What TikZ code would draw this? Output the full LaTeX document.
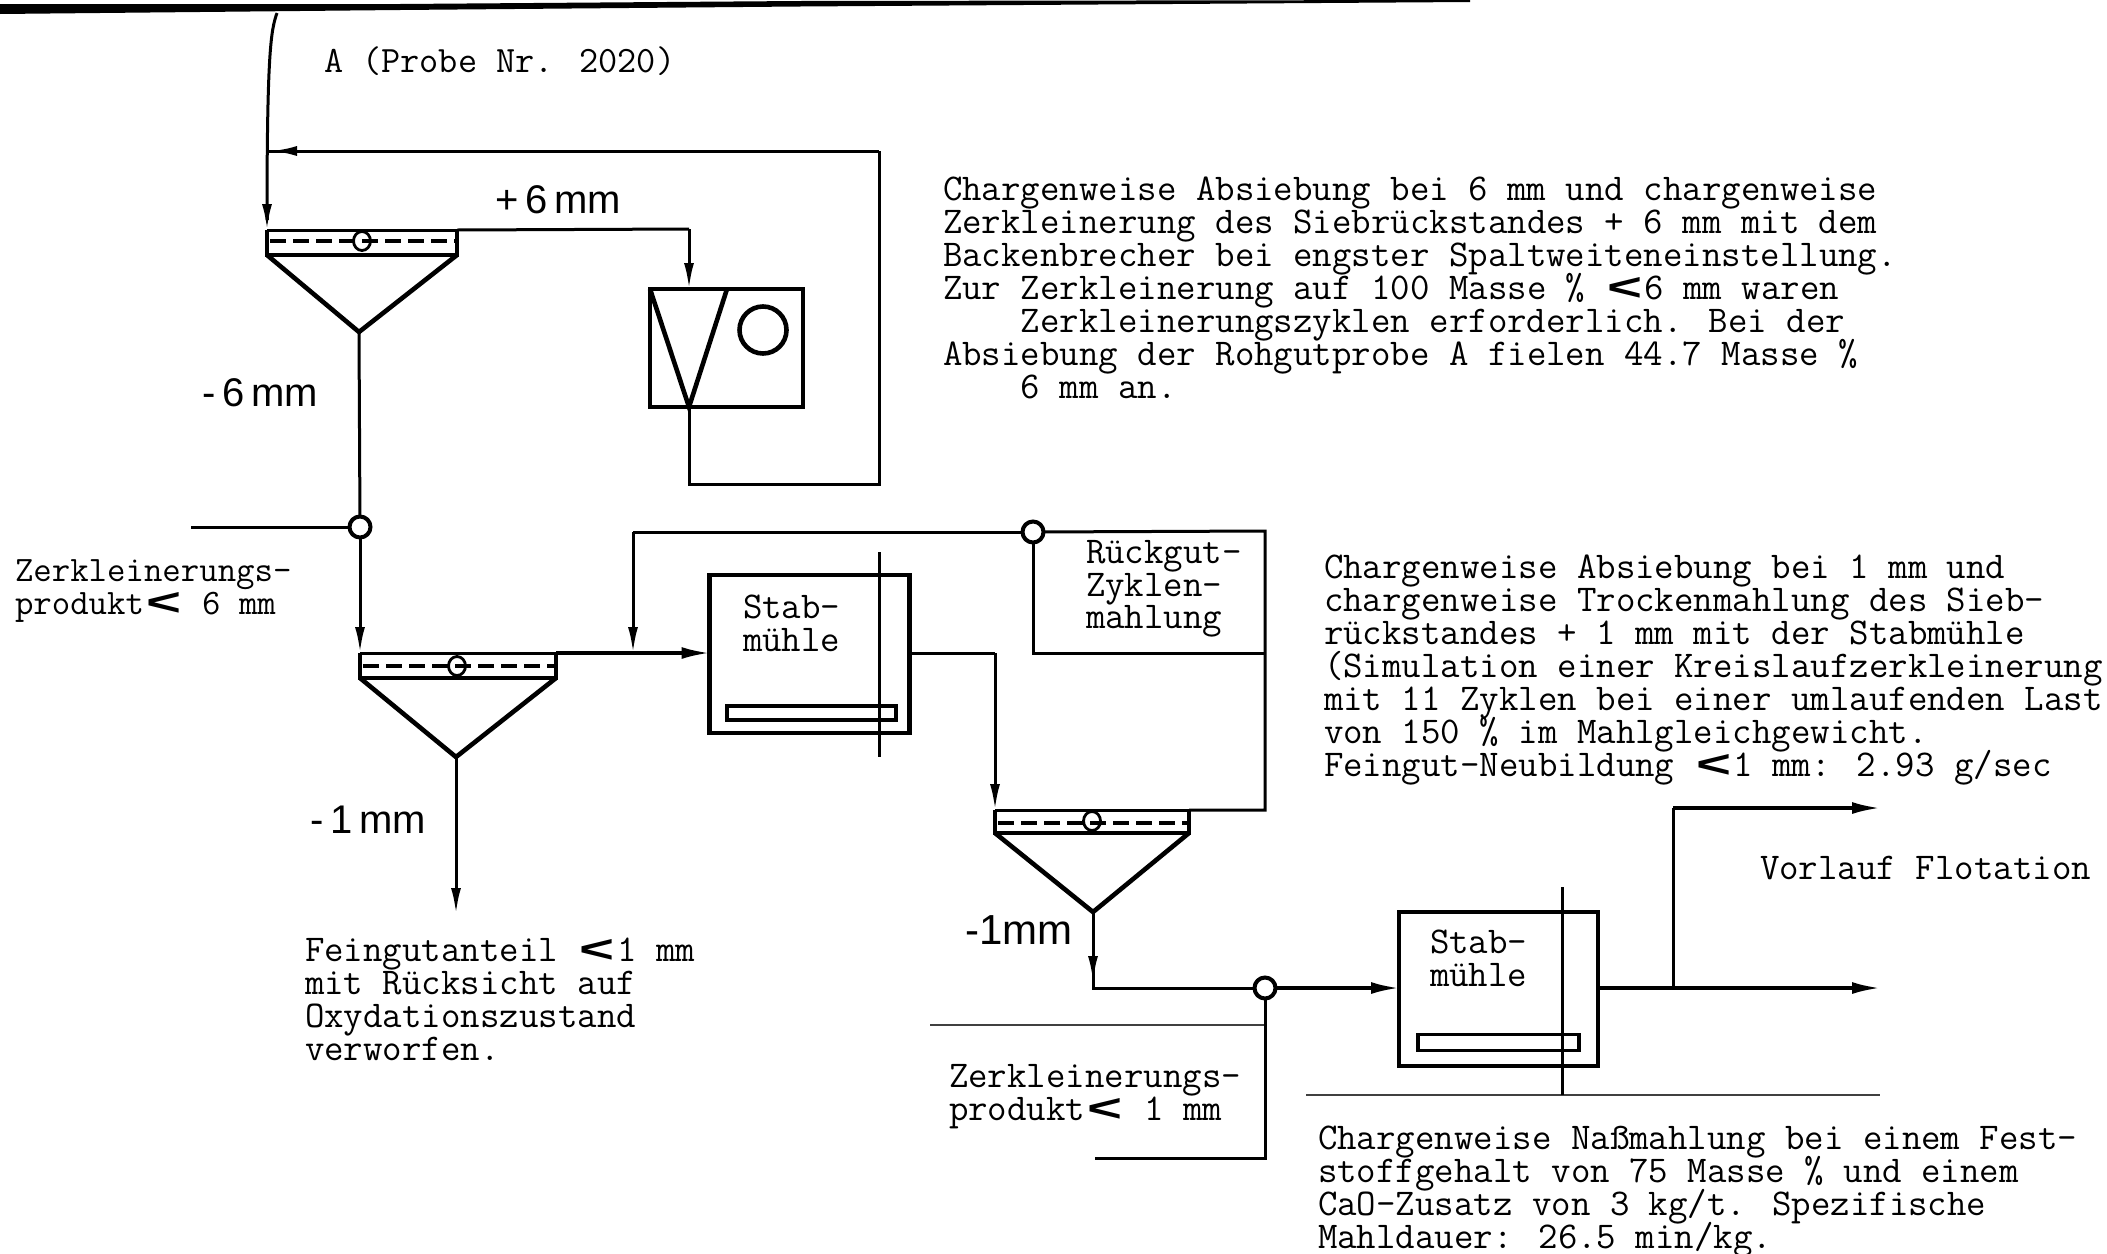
\documentclass[tikz,border=0pt]{standalone}
\usepackage{fontspec}
\usetikzlibrary{arrows.meta,shapes.geometric}
\newfontfamily\labfont{Liberation Sans}
\newcommand{\lsign}{\makebox[19.85pt][c]{\smash{\labfont\bfseries\fontsize{24}{16.5}\selectfont\raisebox{-0.5pt}{\scalebox{1.25}[0.8]{<}}}}}
\setlength{\normallineskiplimit}{-30pt}
\setlength{\lineskiplimit}{-30pt}
\tikzset{
  line/.style={line width=1.5pt,line join=miter},
  heavy/.style={line width=2.3pt,line join=miter},
  flow/.style={line width=1.5pt,-{Latex[length=13pt,width=5pt]}},
  flowh/.style={line width=1.6pt,-{Latex[length=14pt,width=6pt]}},
  hair/.style={line width=0.6pt,black!75},
  sieve/.style={line width=1.9pt,dash pattern=on 8pt off 3.5pt},
  boxn/.style={draw,heavy,inner sep=0pt,outer sep=0pt},
  jn/.style={circle,draw,line width=2pt,fill=white,minimum size=10.5pt,inner sep=0pt,outer sep=0pt},
  sn/.style={ellipse,draw,line width=1.4pt,minimum width=8.5pt,minimum height=9.5pt,inner sep=0pt},
  txt/.style={inner sep=0pt,outer sep=0pt,anchor=north west,align=left,
     font=\fontsize{18.9}{16.45}\selectfont\ttfamily},
  txtn/.style={txt,font=\fontsize{17.9}{16.45}\selectfont\ttfamily},
  lab/.style={inner sep=0pt,font=\fontsize{20}{22}\selectfont\labfont},
}
\begin{document}
\begin{tikzpicture}[x=0.5pt,y=-0.5pt]
\useasboundingbox (0,0) rectangle (2107,1253);
% scan edge at the top
\fill (0,4) -- (400,4) -- (800,1) -- (1470,0) -- (1470,2) -- (800,6.5) -- (400,10) -- (0,14) -- cycle;
% hairlines
\coordinate (ha) at (930,1025); \coordinate (hb) at (1265,1025);
\coordinate (hc) at (1306,1095); \coordinate (hd) at (1880,1095);
\draw[hair] (ha) -- (hb);
\draw[hair] (hc) -- (hd);

% first screen
\coordinate (s1tl) at (267,230); \coordinate (s1tr) at (457,230);
\coordinate (s1bl) at (267,255); \coordinate (s1br) at (457,255);
\coordinate (s1a) at (359,332);
\draw[line] (s1tl) -- (s1tr);
\draw[heavy] (s1tl) -- (s1bl) -- (s1br) -- (s1tr);
\draw[heavy] (s1bl) -- (s1a) -- (s1br);
\draw[sieve] (270,241) -- (455,241);
\node[sn] (s1c) at (362,241) {};
% second screen
\coordinate (s2tl) at (360,653); \coordinate (s2tr) at (556,653);
\coordinate (s2bl) at (360,678); \coordinate (s2br) at (556,678);
\coordinate (s2a) at (456,757);
\draw[line] (s2tl) -- (s2tr);
\draw[heavy] (s2tl) -- (s2bl) -- (s2br) -- (s2tr);
\draw[heavy] (s2bl) -- (s2a) -- (s2br);
\draw[sieve] (363,666) -- (554,666);
\node[sn] (s2c) at (457,666) {};
% third screen
\coordinate (s3tl) at (995,810); \coordinate (s3tr) at (1189,810);
\coordinate (s3bl) at (995,833); \coordinate (s3br) at (1189,833);
\coordinate (s3a) at (1093,912);
\draw[line] (s3tl) -- (s3tr);
\draw[heavy] (s3tl) -- (s3bl) -- (s3br) -- (s3tr);
\draw[heavy] (s3bl) -- (s3a) -- (s3br);
\draw[sieve] (998,823) -- (1187,823);
\node[sn] (s3c) at (1092,821) {};

% jaw crusher
\node[boxn,minimum width=76.5pt,minimum height=59pt] (cr) at (726.5,348) {};
\coordinate (crin) at (689,289); \coordinate (crv) at (689,407); \coordinate (crr) at (727,289);
\draw[heavy] (cr.north west) -- (crv) -- (crr);
\node[circle,draw,heavy,minimum size=23.5pt,inner sep=0pt] (crc) at (763,330) {};

% rod mills
\node[boxn,minimum width=100pt,minimum height=79pt] (m1) at (809.5,654) {};
\node[boxn,line width=1.9pt,minimum width=84.5pt,minimum height=7pt] (r1) at (811.5,713) {};
\coordinate (m1t) at (879,552); \coordinate (m1b) at (879,757);
\draw[line] (m1t) -- (m1b);
\node[boxn,minimum width=99.5pt,minimum height=77pt] (m2) at (1498.5,989) {};
\node[boxn,line width=1.9pt,minimum width=80.5pt,minimum height=8pt] (r2) at (1498.5,1042.5) {};
\coordinate (m2t) at (1562,887); \coordinate (m2b) at (1562,1095);
\draw[line] (m2t) -- (m2b);

% junctions
\node[jn] (j1) at (360,527) {};
\node[jn] (j2) at (1033,532) {};
\node[jn] (j3) at (1265,988) {};

% connectors
\coordinate (feed) at (277,13); \coordinate (fb) at (267,220);
\draw[line] (feed) .. controls (271,30) and (267,50) .. (fb);
\draw[flow] (fb) -- (s1tl);
\coordinate (ret1) at (879,151); \coordinate (ret2) at (267,151);
\draw[line] (crv) -- (689,484) -- (879,484) -- (ret1);
\draw[line] (ret1) -- (ret2);
\draw[flow] (ret1) -- (271,151);
\coordinate (pl1) at (689,229);
\draw[line] (s1tr) -- (pl1);
\draw[flow] (pl1) -- (crin);
\draw[line] (s1a) -- (j1);
\coordinate (in1) at (191,527);
\draw[line] (in1) -- (j1);
\draw[flow] (j1) -- (s2tl);
\draw[flow] (s2a) -- (456,914);
\draw[flowh] (s2tr) -- (m1.west |- s2tr);
\coordinate (rj) at (633,653); \coordinate (rt) at (633,532);
\draw[line] (j2) -- (rt);
\draw[flow] (rt) -- (rj);
\coordinate (rk1) at (1265,531); \coordinate (rk2) at (1265,653); \coordinate (rk3) at (1033,653);
\draw[line] (j2) -- (rk1) -- (s3tr -| rk1) -- (s3tr);
\draw[line] (j2) -- (rk3) -- (rk2);
\coordinate (m1o) at (995,653);
\draw[line] (m1.east |- m1o) -- (m1o);
\draw[flow] (m1o) -- (s3tl);
\coordinate (d3) at (1093,988);
\draw[line] (s3a) -- (d3) -- (j3);
\draw[flow] (s3a) -- (1093,982);
\draw[flowh] (j3) -- (m2.west |- j3);
\coordinate (in3) at (1095,1158);
\draw[line] (j3) -- (1265,1158) -- (in3);
\coordinate (outa) at (1880,988); \coordinate (outb) at (1880,808); \coordinate (br) at (1673,988);
\draw[flowh] (m2.east |- outa) -- (outa);
\draw[line] (br) -- (1673,808);
\draw[flowh] (1673,808) -- (outb);

% labels
\node[lab] (lp6) at (558,200) {+\,6\,mm};
\node[lab] (lm6) at (260,393) {-\,6\,mm};
\node[lab] (lm1a) at (368,820) {-\,1\,mm};
\node[lab,font=\fontsize{21}{22}\selectfont\labfont] (lm1b) at (1019,930) {-1mm};

% typed text
\node[txt,font=\fontsize{18.6}{16.45}\selectfont\ttfamily] (ta) at (324,47) {A (Probe Nr. 2020)};
\node[txt] (t1) at (943,177) {Chargenweise Absiebung bei 6 mm und chargenweise\\
Zerkleinerung des Siebrückstandes + 6 mm mit dem\\
Backenbrecher bei engster Spaltweiteneinstellung.\\
Zur Zerkleinerung auf 100 Masse \% \lsign 6 mm waren\\
~~~~Zerkleinerungszyklen erforderlich. Bei der\\
Absiebung der Rohgutprobe A fielen 44.7 Masse \%\\
~~~~6 mm an.};
\node[txtn] (t2) at (15,560) {Zerkleinerungs-\\produkt\lsign~6 mm};
\node[txt] (t3) at (1086,540) {Rückgut-\\Zyklen-\\mahlung};
\node[txt] (t4) at (1324,555) {Chargenweise Absiebung bei 1 mm und\\
chargenweise Trockenmahlung des Sieb-\\
rückstandes + 1 mm mit der Stabmühle\\
(Simulation einer Kreislaufzerkleinerung\\
mit 11 Zyklen bei einer umlaufenden Last\\
von 150 \% im Mahlgleichgewicht.\\
Feingut-Neubildung \lsign 1 mm: 2.93 g/sec};
\node[txt] (t5) at (743,595) {Stab-\\mühle};
\node[txt] (t6) at (1430,930) {Stab-\\mühle};
\node[txt] (t7) at (1760,856) {Vorlauf Flotation};
\node[txt] (t8) at (305,938) {Feingutanteil \lsign 1 mm\\mit Rücksicht auf\\Oxydationszustand\\verworfen.};
\node[txt] (t9) at (949,1064) {Zerkleinerungs-\\produkt\lsign~1 mm};
\node[txt] (t10) at (1318,1126) {Chargenweise Naßmahlung bei einem Fest-\\
stoffgehalt von 75 Masse \% und einem\\
CaO-Zusatz von 3 kg/t. Spezifische\\
Mahldauer: 26.5 min/kg.};
\end{tikzpicture}
\end{document}
